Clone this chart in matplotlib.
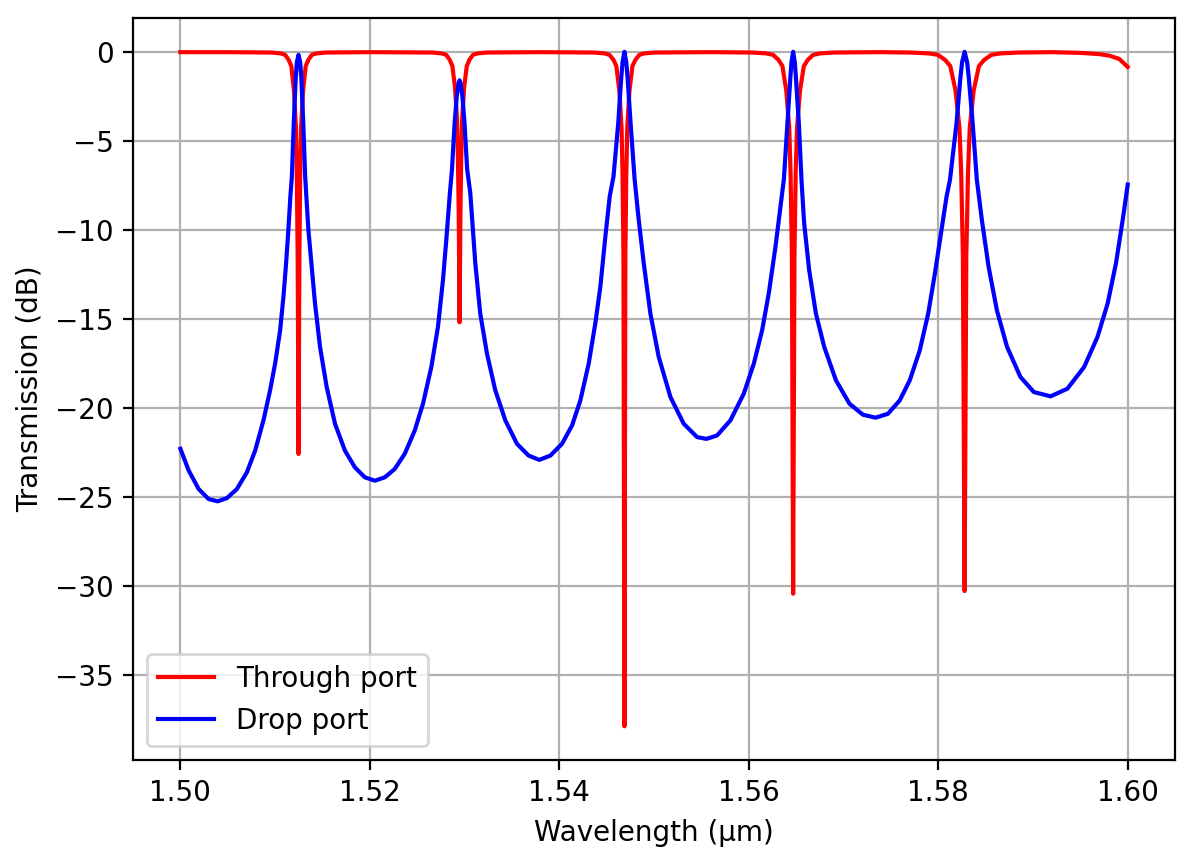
import numpy as np
import matplotlib.pyplot as plt

# Add-drop ring resonator response

# Through port (wavelength in um, transmission in dB)
through_wl = [
    1.50000, 1.50500,
    1.50959, 1.51058, 1.51106, 1.51143, 1.51171, 1.51199, 1.51220, 1.51229, 1.51238,
    1.51247,
    1.51256, 1.51265, 1.51274, 1.51295, 1.51323, 1.51351, 1.51388, 1.51436, 1.51535,
    1.52000,
    1.52659, 1.52758, 1.52806, 1.52843, 1.52871, 1.52899, 1.52920, 1.52929, 1.52938,
    1.52947,
    1.52956, 1.52965, 1.52974, 1.52995, 1.53023, 1.53051, 1.53088, 1.53136, 1.53235,
    1.53800,
    1.54367, 1.54477, 1.54529, 1.54571, 1.54602, 1.54634, 1.54657, 1.54667, 1.54677,
    1.54687,
    1.54697, 1.54707, 1.54717, 1.54740, 1.54772, 1.54803, 1.54845, 1.54897, 1.55007,
    1.55600,
    1.56036, 1.56184, 1.56256, 1.56313, 1.56355, 1.56396, 1.56427, 1.56441, 1.56455,
    1.56468,
    1.56482, 1.56495, 1.56509, 1.56540, 1.56581, 1.56623, 1.56680, 1.56752, 1.56900,
    1.57400,
    1.57702, 1.57900, 1.57995, 1.58071, 1.58127, 1.58183, 1.58224, 1.58242, 1.58260,
    1.58278,
    1.58296, 1.58314, 1.58332, 1.58373, 1.58429, 1.58485, 1.58561, 1.58656, 1.58854,
    1.59200, 1.59500, 1.59700, 1.59810, 1.59910, 1.60000,
]
through_db = [
    -0.02, -0.02,
    -0.04, -0.09, -0.17, -0.45, -0.8, -2.2, -4.3, -6.8, -11.5,
    -22.6,
    -11.5, -6.8, -4.3, -2.2, -0.8, -0.45, -0.17, -0.09, -0.04,
    -0.02,
    -0.04, -0.09, -0.17, -0.45, -0.8, -2.0, -3.8, -5.8, -9.0,
    -15.2,
    -9.0, -5.8, -3.8, -2.0, -0.8, -0.45, -0.17, -0.09, -0.04,
    -0.02,
    -0.04, -0.09, -0.17, -0.45, -0.8, -2.2, -4.3, -6.8, -11.5,
    -37.9,
    -11.5, -6.8, -4.3, -2.2, -0.8, -0.45, -0.17, -0.09, -0.04,
    -0.02,
    -0.04, -0.09, -0.17, -0.45, -0.8, -2.2, -4.3, -6.8, -11.5,
    -30.45,
    -11.5, -6.8, -4.3, -2.2, -0.8, -0.45, -0.17, -0.09, -0.04,
    -0.02,
    -0.04, -0.09, -0.17, -0.45, -0.8, -2.2, -4.3, -6.8, -11.5,
    -30.3,
    -11.5, -6.8, -4.3, -2.2, -0.8, -0.45, -0.17, -0.09, -0.04,
    -0.02, -0.06, -0.13, -0.22, -0.4, -0.85,
]

# Drop port
drop_wl = [
    1.50000, 1.50088, 1.50193, 1.50298, 1.50393, 1.50491, 1.50596, 1.50702, 1.50789, 1.50877,
    1.50947, 1.51000, 1.51053, 1.51088, 1.51116, 1.51140, 1.51161, 1.51177, 1.51197, 1.51217,
    1.51229, 1.51247, 1.51265, 1.51277, 1.51297, 1.51317, 1.51333, 1.51351, 1.51386, 1.51421,
    1.51474, 1.51544, 1.51632, 1.51737, 1.51842, 1.51947, 1.52053, 1.52158, 1.52263, 1.52368,
    1.52474, 1.52561, 1.52649, 1.52719, 1.52772, 1.52807, 1.52842, 1.52867, 1.52895, 1.52917,
    1.52935, 1.52947, 1.52959, 1.52977, 1.52999, 1.53027, 1.53060, 1.53113, 1.53165, 1.53236,
    1.53324, 1.53430, 1.53553, 1.53676, 1.53789, 1.53905, 1.54028, 1.54134, 1.54222, 1.54310,
    1.54380, 1.54433, 1.54486, 1.54532, 1.54572, 1.54622, 1.54653, 1.54667, 1.54687, 1.54707,
    1.54721, 1.54752, 1.54795, 1.54838, 1.54891, 1.54961, 1.55049, 1.55173, 1.55313, 1.55454,
    1.55553, 1.55665, 1.55806, 1.55947, 1.56053, 1.56141, 1.56211, 1.56282, 1.56335, 1.56370,
    1.56408, 1.56438, 1.56450, 1.56468, 1.56486, 1.56498, 1.56528, 1.56556, 1.56584, 1.56637,
    1.56708, 1.56796, 1.56920, 1.57062, 1.57204, 1.57338, 1.57469, 1.57593, 1.57699, 1.57805,
    1.57894, 1.57965, 1.58035, 1.58088, 1.58124, 1.58193, 1.58233, 1.58251, 1.58278, 1.58305,
    1.58323, 1.58363, 1.58407, 1.58460, 1.58531, 1.58619, 1.58726, 1.58867, 1.59009, 1.59186,
    1.59363, 1.59540, 1.59681, 1.59788, 1.59876, 1.59947, 1.60000,
]
drop_db = [
    -22.31, -23.53, -24.57, -25.13, -25.26, -25.08, -24.57, -23.63, -22.41, -20.71,
    -19.02, -17.52, -15.64, -13.76, -11.88, -10.0, -8.12, -7.0, -4.0, -1.5,
    -0.6, -0.17, -0.6, -1.5, -4.0, -7.0, -8.4, -10.0, -12.07, -14.14,
    -16.58, -18.83, -20.9, -22.41, -23.35, -23.91, -24.1, -23.91, -23.44, -22.59,
    -21.28, -19.77, -17.71, -15.45, -12.82, -10.56, -8.12, -6.6, -4.0, -2.5,
    -1.8, -1.6, -1.8, -2.5, -4.0, -6.6, -7.93, -11.88, -14.7, -16.95,
    -19.02, -20.71, -22.03, -22.69, -22.93, -22.69, -22.03, -21.0, -19.59, -17.52,
    -15.26, -13.2, -10.38, -8.12, -7.0, -4.0, -1.5, -0.6, 0.0, -0.6,
    -1.5, -4.0, -7.18, -9.44, -11.88, -14.7, -17.14, -19.4, -20.9, -21.65,
    -21.75, -21.56, -20.71, -19.21, -17.52, -15.64, -13.57, -10.94, -8.68, -7.18,
    -4.0, -1.5, -0.6, 0.0, -0.6, -1.5, -4.0, -7.18, -9.62, -12.26,
    -14.7, -16.58, -18.46, -19.77, -20.39, -20.56, -20.34, -19.59, -18.46, -16.77,
    -14.7, -12.44, -10.0, -8.12, -7.18, -4.0, -1.5, -0.6, 0.0, -0.6,
    -1.5, -4.0, -7.18, -9.44, -12.07, -14.53, -16.58, -18.27, -19.12, -19.36,
    -18.93, -17.71, -16.02, -14.14, -11.88, -9.44, -7.46,
]

fig = plt.figure(figsize=(1193 / 200, 861 / 200), dpi=200)
plt.subplots_adjust(left=0.1115, right=0.985, top=0.979, bottom=0.1173)

plt.plot(np.array(through_wl), np.array(through_db), color='red', label='Through port')
plt.plot(np.array(drop_wl), np.array(drop_db), color='blue', label='Drop port')
plt.xlabel('Wavelength (µm)')
plt.ylabel('Transmission (dB)')
plt.grid(True)
plt.legend(loc='lower left')
plt.savefig('out.png', dpi=200)
